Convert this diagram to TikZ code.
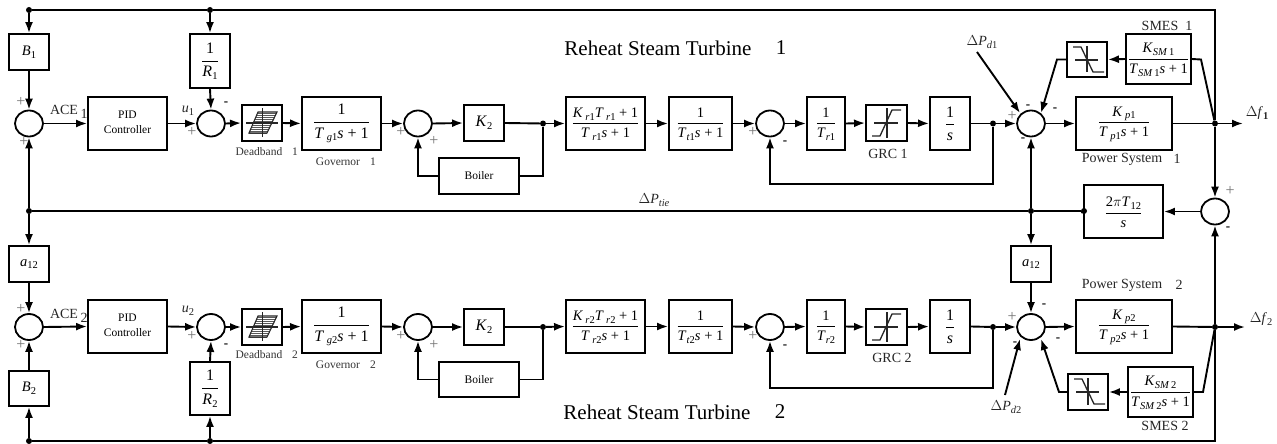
\documentclass[tikz,border=0pt]{standalone}
\usepackage{fontspec}
\setmainfont{Liberation Serif}
\usetikzlibrary{arrows.meta,shapes.geometric}
\newcommand\fs[1]{\fontsize{#1}{#1}\selectfont}
\newcommand\iv[1]{\textit{#1}}
\newcommand\sbs[1]{\raisebox{-2.6pt}{\fs{10.5}#1}}
\newcommand\frc[2]{$\displaystyle\frac{\vphantom{\rule{0pt}{11pt}}\hbox{#1}}{\hbox{\rule{0pt}{13pt}#2}}$}
\newcommand\blk[6]{%
  \pgfmathsetmacro\cxx{(#2+#4)/2}\pgfmathsetmacro\cyy{(#3+#5)/2}%
  \pgfmathsetmacro\wxx{#4-#2}\pgfmathsetmacro\hyy{#5-#3}%
  \node[blockbox,minimum width=\wxx pt,minimum height=\hyy pt] (#1) at (\cxx,\cyy) {#6};}
\tikzset{
  wire/.style={line width=1.9pt,draw=black},
  arr/.style={wire,-{Latex[length=11pt,width=8pt]}},
  blockbox/.style={draw=black,line width=1.9pt,inner sep=0pt,fill=white,font=\fs{14.5}},
  sumj/.style={ellipse,draw=black,line width=1.8pt,inner sep=0pt,minimum width=28pt,minimum height=26pt},
  dotj/.style={circle,fill=black,inner sep=0pt,minimum size=6pt},
  small/.style={inner sep=0pt,font=\fs{11.5},text=black!80},
  mid/.style={inner sep=0pt,font=\fs{14},text=black!85},
  plus/.style={inner sep=0pt,font=\fs{16},text=black!55},
  minus/.style={inner sep=0pt,font=\bfseries\fs{13}},
  icon/.style={line width=1.1pt,draw=black!85},
  iconb/.style={line width=1.3pt,draw=black!85}
}
\begin{document}
\begin{tikzpicture}[x=1pt,y=-1pt]
\useasboundingbox (0,0) rectangle (1277,444);
\clip (0,0) rectangle (1277,444);
% --- Area 1 blocks
\blk{B1}{9}{34}{49}{70}{\iv{B}\sbs{1}}
\blk{R1}{190}{34}{230}{88}{\fs{16}\frc{1}{\iv{R}\sbs{1}}}
\blk{PID1}{88}{97}{167}{150}{\fs{11.5}\begin{tabular}{@{}c@{}}PID\\[3pt]Controller\end{tabular}}
\blk{DB1}{242}{105}{282}{141}{}
\blk{GOV1}{302}{97}{381}{150}{\fs{16}\frc{1}{\iv{T}\,\sbs{\iv{g}1}\iv{s} + 1}}
\blk{KZ1}{464}{105}{504}{141}{\fs{16}\iv{K}\sbs{2}}
\blk{BO1}{439}{158}{519}{194}{\fs{11.5}Boiler}
\blk{KR1}{566}{97}{645}{150}{\frc{\iv{K}\,\sbs{\iv{r}1}\iv{T}\,\sbs{\iv{r}1} + 1}{\iv{T}\,\sbs{\iv{r}1}\iv{s} + 1}}
\blk{TT1}{669}{97}{732}{150}{\frc{1}{\iv{T}\sbs{\iv{t}1}\iv{s} + 1}}
\blk{TR1}{807}{97}{845}{150}{\frc{1}{\iv{T}\sbs{\iv{r}1}}}
\blk{GRC1}{866}{105}{907}{141}{}
\blk{INT1}{930}{97}{970}{150}{\fs{16}\frc{1}{\iv{s}}}
\blk{KP1}{1076}{97}{1172}{150}{\frc{\iv{K}\,\sbs{\iv{p}1}}{\iv{T}\,\sbs{\iv{p}1}\iv{s} + 1}}
\blk{SM1}{1126}{34}{1191}{84}{\frc{\iv{K}\sbs{\iv{SM}\,1}}{\iv{T}\sbs{\iv{SM}\,1}\iv{s} + 1}}
\blk{LIM1}{1067}{42}{1107}{77}{}
% --- Tie
\blk{TIE}{1084}{185}{1163}{238}{\frc{2\iv{$\pi$T}\sbs{12}}{\iv{s}}}
\blk{A1}{9}{246}{49}{282}{\iv{a}\sbs{12}}
\blk{A2}{1011}{246}{1051}{282}{\iv{a}\sbs{12}}
% --- Area 2 blocks
\blk{B2}{9}{371}{49}{406}{\iv{B}\sbs{2}}
\blk{R2}{190}{362}{230}{415}{\fs{16}\frc{1}{\iv{R}\sbs{2}}}
\blk{PID2}{88}{300}{167}{353}{\fs{11.5}\begin{tabular}{@{}c@{}}PID\\[3pt]Controller\end{tabular}}
\blk{DB2}{242}{309}{282}{345}{}
\blk{GOV2}{302}{300}{381}{353}{\fs{16}\frc{1}{\iv{T}\,\sbs{\iv{g}2}\iv{s} + 1}}
\blk{KZ2}{464}{309}{504}{345}{\fs{16}\iv{K}\sbs{2}}
\blk{BO2}{439}{362}{519}{397}{\fs{11.5}Boiler}
\blk{KR2}{566}{300}{645}{353}{\frc{\iv{K}\,\sbs{\iv{r}2}\iv{T}\,\sbs{\iv{r}2} + 1}{\iv{T}\,\sbs{\iv{r}2}\iv{s} + 1}}
\blk{TT2}{669}{300}{732}{353}{\frc{1}{\iv{T}\sbs{\iv{t}2}\iv{s} + 1}}
\blk{TR2}{807}{300}{845}{353}{\frc{1}{\iv{T}\sbs{\iv{r}2}}}
\blk{GRC2}{866}{309}{907}{345}{}
\blk{INT2}{930}{300}{970}{353}{\fs{16}\frc{1}{\iv{s}}}
\blk{KP2}{1076}{300}{1172}{353}{\frc{\iv{K}\,\sbs{\iv{p}2}}{\iv{T}\,\sbs{\iv{p}2}\iv{s} + 1}}
\blk{SM2}{1128}{367}{1193}{417}{\frc{\iv{K}\sbs{\iv{SM}\,2}}{\iv{T}\sbs{\iv{SM}\,2}\iv{s} + 1}}
\blk{LIM2}{1068}{374}{1108}{410}{}
% --- Summing junctions
\node[sumj] (S1) at (29,123.5) {};
\node[sumj] (U1) at (211,123.5) {};
\node[sumj] (G1) at (418,123.5) {};
\node[sumj] (H1) at (770,123.5) {};
\node[sumj] (P1) at (1031,123.5) {};
\node[sumj] (S2) at (29,327) {};
\node[sumj] (U2) at (211,327) {};
\node[sumj] (G2) at (418,327) {};
\node[sumj] (H2) at (770,327) {};
\node[sumj] (P2) at (1031,327) {};
\node[sumj] (ST) at (1215,211.5) {};
% --- Junction dots
\node[dotj] (jT1) at (29,10) {};
\node[dotj] (jT2) at (210,10) {};
\node[dotj] (jL) at (29,211) {};
\node[dotj] (jB1) at (29,441) {};
\node[dotj] (jB2) at (210,441) {};
\node[dotj] (jK1) at (543,123.5) {};
\node[dotj] (jK2) at (543,327) {};
\node[dotj] (jI1) at (993,123.5) {};
\node[dotj] (jI2) at (993,327) {};
\node[dotj] (jC) at (1031,211) {};
\node[dotj] (jTie) at (1084,211) {};
\node[dotj] (jF1) at (1215,123.5) {};
\node[dotj] (jF2) at (1215,327) {};
\coordinate (oF1) at (1243,123.5);
\coordinate (oF2) at (1245,327);
\coordinate (dP1) at (977,52);
\coordinate (dP2) at (1005,395);
\coordinate (pa1) at (1020,113);
\coordinate (pb1) at (1041,113);
\coordinate (pa2) at (1020,339);
\coordinate (pb2) at (1041,339);
% --- Forward paths, area 1
\draw[arr] (S1.east) -- (PID1.west);
\draw[arr] (PID1.east) -- (U1.west);
\draw[arr] (U1.east) -- (DB1.west);
\draw[arr] (DB1.east) -- (GOV1.west);
\draw[arr] (GOV1.east) -- (G1.west);
\draw[arr] (G1.east) -- (KZ1.west);
\draw[wire] (KZ1.east) -- (jK1);
\draw[arr] (jK1) -- (KR1.west);
\draw[arr] (KR1.east) -- (TT1.west);
\draw[arr] (TT1.east) -- (H1.west);
\draw[arr] (H1.east) -- (TR1.west);
\draw[arr] (TR1.east) -- (GRC1.west);
\draw[arr] (GRC1.east) -- (INT1.west);
\draw[wire] (INT1.east) -- (jI1);
\draw[arr] (jI1) -- (P1.west);
\draw[arr] (P1.east) -- (KP1.west);
\draw[wire] (KP1.east) -- (jF1);
\draw[arr] (jF1) -- (oF1);
% --- Forward paths, area 2
\draw[arr] (S2.east) -- (PID2.west);
\draw[arr] (PID2.east) -- (U2.west);
\draw[arr] (U2.east) -- (DB2.west);
\draw[arr] (DB2.east) -- (GOV2.west);
\draw[arr] (GOV2.east) -- (G2.west);
\draw[arr] (G2.east) -- (KZ2.west);
\draw[wire] (KZ2.east) -- (jK2);
\draw[arr] (jK2) -- (KR2.west);
\draw[arr] (KR2.east) -- (TT2.west);
\draw[arr] (TT2.east) -- (H2.west);
\draw[arr] (H2.east) -- (TR2.west);
\draw[arr] (TR2.east) -- (GRC2.west);
\draw[arr] (GRC2.east) -- (INT2.west);
\draw[wire] (INT2.east) -- (jI2);
\draw[arr] (jI2) -- (P2.west);
\draw[arr] (P2.east) -- (KP2.west);
\draw[wire] (KP2.east) -- (jF2);
\draw[arr] (jF2) -- (oF2);
% --- Local feedback
\draw[wire] (jK1) |- (BO1.east);
\draw[arr] (BO1.west) -| (G1.south);
\draw[wire] (jK2) |- (BO2.east);
\draw[arr] (BO2.west) -| (G2.south);
\draw[arr] (jI1) |- (770,184) -- (H1.south);
\draw[arr] (jI2) |- (770,388) -- (H2.south);
% --- Frequency feedback buses
\draw[wire] (jF1) -- (1215,10) -- (jT2) -- (jT1);
\draw[arr] (jT1) -- (B1.north);
\draw[arr] (jT2) -- (R1.north);
\draw[arr] (B1.south) -- (S1.north);
\draw[arr] (R1.south) -- (U1.north);
\draw[wire] (jF2) -- (1215,441) -- (jB2) -- (jB1);
\draw[arr] (jB1) -- (B2.south);
\draw[arr] (jB2) -- (R2.south);
\draw[arr] (B2.north) -- (S2.south);
\draw[arr] (R2.north) -- (U2.south);
% --- Tie line
\draw[arr] (jF1) -- (ST.north);
\draw[arr] (jF2) -- (ST.south);
\draw[arr] (ST.west) -- (TIE.east);
\draw[wire] (TIE.west) -- (jTie) -- (jC) -- (jL);
\draw[arr] (jL) -- (S1.south);
\draw[arr] (jL) -- (A1.north);
\draw[arr] (A1.south) -- (S2.north);
\draw[arr] (jC) -- (P1.south);
\draw[arr] (jC) -- (A2.north);
\draw[arr] (A2.south) -- (P2.north);
% --- SMES
\draw[wire] (jF1) -- (1201,59.5) -- (SM1.east);
\draw[arr] (SM1.west) -- (LIM1.east);
\draw[arr] (LIM1.west) -- (1057,59.5) -- (pb1);
\draw[wire] (jF2) -- (1203,392) -- (SM2.east);
\draw[arr] (SM2.west) -- (LIM2.east);
\draw[arr] (LIM2.west) -- (1059,392) -- (pb2);
\draw[arr] (dP1) -- (pa1);
\draw[arr] (dP2) -- (pa2);
% --- Deadband icons
\foreach \dy in {0,204}{
  \begin{scope}[yshift=-\dy pt]
    \foreach \yy in {113,115,...,133}{
      \pgfmathsetmacro\xa{249+(133-\yy)*9/21}
      \draw[line width=1pt,draw=black!65] (\xa,\yy) -- ++(18,0);
    }
    \draw[icon] (258,112) -- (277,112) -- (267,133) -- (249,133) -- cycle;
    \draw[icon] (246,123) -- (278,123);
    \draw[icon] (262.5,108) -- (262.5,137);
  \end{scope}
}
% --- GRC icons
\foreach \dy in {0,204}{
  \begin{scope}[yshift=-\dy pt]
    \draw[icon] (874,123) -- (898,123);
    \draw[icon] (887,108) -- (887,138);
    \draw[iconb] (872,136) -- (880,136) -- (892,110) -- (901,110);
  \end{scope}
}
% --- Limiter icons
\draw[icon] (1075,60) -- (1098,60);
\draw[icon] (1087,46) -- (1087,72);
\draw[iconb] (1073,47) -- (1081,47) -- (1093,72) -- (1104,72);
\draw[icon] (1076,392) -- (1099,392);
\draw[icon] (1088,378) -- (1088,405);
\draw[iconb] (1074,379) -- (1082,379) -- (1094,404) -- (1105,404);
% --- Titles and labels
\node[inner sep=0pt,font=\fs{21}] (t1) at (658,48) {Reheat Steam Turbine};
\node[inner sep=0pt,font=\fs{21}] (t1n) at (781,48) {1};
\node[inner sep=0pt,font=\fs{21}] (t2) at (657,412) {Reheat Steam Turbine};
\node[inner sep=0pt,font=\fs{21}] (t2n) at (780,412) {2};
\node[mid] (l1) at (64,110) {ACE};
\node[mid] (l1n) at (84,114) {1};
\node[mid] (l2) at (64,314) {ACE};
\node[mid] (l2n) at (84,318) {2};
\node[mid] (u1l) at (188,111) {\iv{u}\sbs{1}};
\node[mid] (u2l) at (188,311) {\iv{u}\sbs{2}};
\node[small] (d1) at (259,152) {Deadband};
\node[small] (d1n) at (295,152) {1};
\node[small] (d2) at (259,355) {Deadband};
\node[small] (d2n) at (295,355) {2};
\node[small] (g1) at (338,162) {Governor};
\node[small] (g1n) at (373,162) {1};
\node[small] (g2) at (338,365) {Governor};
\node[small] (g2n) at (373,365) {2};
\node[mid] (grc1) at (888,154) {GRC 1};
\node[mid] (grc2) at (892,358) {GRC 2};
\node[mid] (ps1) at (1122,159) {Power System};
\node[mid] (ps1n) at (1177,159) {1};
\node[mid] (ps2) at (1122,285) {Power System};
\node[mid] (ps2n) at (1179,285) {2};
\node[mid] (sm1) at (1167,26) {SMES\ \ 1};
\node[mid] (sm2) at (1165,426) {SMES 2};
\node[mid] (pd1) at (982,42) {$\Delta$\iv{P}\sbs{\iv{d}1}};
\node[mid] (pd2) at (1006,407) {$\Delta$\iv{P}\sbs{\iv{d}2}};
\node[mid] (pt) at (654,200) {$\Delta$\iv{P}\sbs{\iv{tie}}};
\node[mid] (f1) at (1257,113) {$\Delta$\iv{f}\sbs{\textbf{1}}};
\node[mid] (f2) at (1261,319) {$\Delta$\iv{f}\sbs{2}};
% --- Signs
\foreach \xx/\yy in {21/102,24/142,192/132,401/132,434/141,753/132,1012/116,1230/191,
                     21/309,21/345,192/336,401/336,434/345,753/336,1012/317}
  \node[plus] at (\xx,\yy) {+};
\foreach \xx/\yy in {226/104,785/143,1028/107,1055/110,1023/140,1228/229,
                     226/346,785/347,1044/306,1058/340,1015/344}
  \node[minus] at (\xx,\yy) {-};
\end{tikzpicture}
\end{document}
